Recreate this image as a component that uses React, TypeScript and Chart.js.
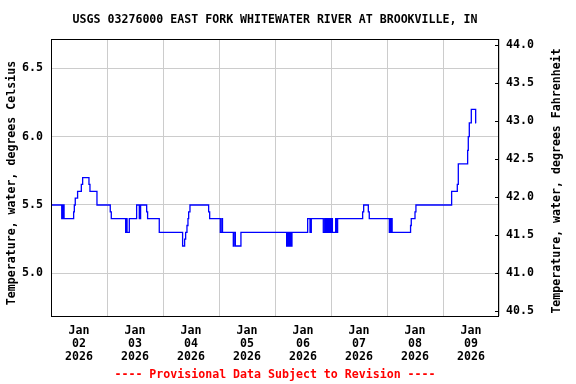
import React, { useEffect, useRef } from 'react';
import { Chart, registerables } from 'chart.js';

Chart.register(...registerables);

const TITLE = 'USGS 03276000 EAST FORK WHITEWATER RIVER AT BROOKVILLE, IN';
const FOOTER = '---- Provisional Data Subject to Revision ----';
const Y_LEFT_TITLE = 'Temperature, water, degrees Celsius';
const Y_RIGHT_TITLE = 'Temperature, water, degrees Fahrenheit';
const MONTH = 'Jan';
const YEAR = '2026';
const DAY_LABELS = ['02', '03', '04', '05', '06', '07', '08', '09'];

// hours since Jan 02 00:00 at which the reading changes, and the reading (deg C)
const HOURS = [
  0, 4.6, 4.85, 5.1, 5.35, 5.6, 9.7, 10.0, 10.4, 11.4, 13.0, 13.56, 16.27, 16.7, 19.7,
  25.4, 25.84, 32.0, 32.3, 32.6, 33.56, 36.7, 37.84, 38.4, 41.0, 41.4, 46.4,
  56.4, 57.27, 57.7, 58.27, 58.7, 59.0, 59.56, 67.56, 68.0, 72.56, 73.2, 73.5,
  78.13, 78.4, 79.0, 81.4, 101.0, 101.56, 102.0, 102.56, 103.0, 103.27,
  110.0, 111.0, 111.56, 116.7, 117.3, 117.8, 118.3, 118.8, 119.3, 119.8, 120.3, 120.6,
  122.0, 122.3, 122.84, 133.56, 134.0, 136.0, 136.4, 145.0, 145.3, 145.6, 145.9, 146.2,
  154.1, 154.4, 156.0, 156.4, 171.7, 174.13, 174.56, 178.56, 178.84, 179.27, 180.13,
  182.0, 182.2,
];
const TEMP_C = [
  5.5, 5.4, 5.5, 5.4, 5.5, 5.4, 5.45, 5.5, 5.55, 5.6, 5.65, 5.7, 5.65, 5.6, 5.5,
  5.45, 5.4, 5.3, 5.4, 5.3, 5.4, 5.5, 5.4, 5.5, 5.45, 5.4, 5.3,
  5.2, 5.25, 5.3, 5.35, 5.4, 5.45, 5.5, 5.45, 5.4, 5.3, 5.4, 5.3,
  5.2, 5.3, 5.2, 5.3, 5.2, 5.3, 5.2, 5.3, 5.2, 5.3,
  5.4, 5.3, 5.4, 5.3, 5.4, 5.3, 5.4, 5.3, 5.4, 5.3, 5.4, 5.3,
  5.4, 5.3, 5.4, 5.45, 5.5, 5.45, 5.4, 5.3, 5.4, 5.3, 5.4, 5.3,
  5.35, 5.4, 5.45, 5.5, 5.6, 5.65, 5.8, 5.9, 6.0, 6.1, 6.2,
  6.1, 6.1,
];

const Y_MIN_C = 4.688;
const Y_MAX_C = 6.714;
const X_MIN_H = 0;
const X_MAX_H = 192;

const toF = (c: number) => c * 1.8 + 32;

const FONT_FAMILY = '"DejaVu Sans Mono", "Liberation Mono", monospace';
const FONT_SIZE = 11.6;
const CANVAS_FONT = `bold ${FONT_SIZE}px ${FONT_FAMILY}`;

const decorPlugin = {
  id: 'usgsDecor',
  afterDraw(chart: any) {
    const { ctx, chartArea: a } = chart;
    ctx.save();
    ctx.font = CANVAS_FONT;
    ctx.textAlign = 'center';
    ctx.textBaseline = 'middle';
    const cx = (a.left + a.right) / 2;
    ctx.fillStyle = '#000';
    ctx.fillText(TITLE, cx, 20);
    ctx.fillStyle = '#ff0000';
    ctx.fillText(FOOTER, cx, 375);
    ctx.fillStyle = '#000';
    ctx.save();
    ctx.translate(12, 183);
    ctx.rotate(-Math.PI / 2);
    ctx.fillText(Y_LEFT_TITLE, 0, 0);
    ctx.restore();
    ctx.save();
    ctx.translate(557, 181);
    ctx.rotate(-Math.PI / 2);
    ctx.fillText(Y_RIGHT_TITLE, 0, 0);
    ctx.restore();

    // plot frame
    ctx.strokeStyle = '#000';
    ctx.lineWidth = 1;
    ctx.strokeRect(a.left + 0.5, a.top + 0.5, a.right - a.left - 1, a.bottom - a.top);

    // inward ticks on the right axis
    const y2 = chart.scales.y2;
    ctx.beginPath();
    for (const t of y2.ticks) {
      const py = Math.round(y2.getPixelForValue(t.value)) + 0.5;
      ctx.moveTo(a.right - 4, py);
      ctx.lineTo(a.right - 1, py);
    }
    ctx.stroke();
    ctx.restore();
  },
};

export default function App() {
  const ref = useRef<HTMLCanvasElement | null>(null);

  useEffect(() => {
    if (!ref.current) return;
    const points = HOURS.map((h, i) => ({ x: h, y: TEMP_C[i] }));
    const font = { family: FONT_FAMILY, size: FONT_SIZE, weight: 'bold' as const, lineHeight: 1.12 };
    const chart = new Chart(ref.current, {
      type: 'line',
      data: {
        datasets: [
          {
            data: points,
            borderColor: '#0000ff',
            borderWidth: 1.3,
            pointRadius: 0,
            stepped: true,
            fill: false,
            yAxisID: 'y',
          },
        ],
      },
      options: {
        responsive: false,
        animation: false,
        events: [],
        layout: { padding: { top: 39, left: 0, right: 0, bottom: 0 } },
        plugins: { legend: { display: false }, tooltip: { enabled: false }, title: { display: false } },
        scales: {
          x: {
            type: 'linear',
            min: X_MIN_H,
            max: X_MAX_H,
            afterFit: (s: any) => { s.height = 68; },
            border: { display: false },
            grid: {
              drawTicks: false,
              color: (c: any) => (c.tick && Math.round(c.tick.value) % 24 === 0 ? '#cccccc' : 'rgba(0,0,0,0)'),
              lineWidth: 1,
            },
            ticks: {
              stepSize: 12,
              autoSkip: false,
              maxRotation: 0,
              minRotation: 0,
              padding: 8.5,
              color: '#000',
              font,
              callback: (v: any) => {
                const n = Number(v);
                if (Math.round(n) % 24 !== 12) return '';
                const idx = Math.floor(n / 24);
                return [MONTH, DAY_LABELS[idx] ?? '', YEAR];
              },
            },
          },
          y: {
            type: 'linear',
            position: 'left',
            min: Y_MIN_C,
            max: Y_MAX_C,
            afterFit: (s: any) => { s.width = 51; },
            border: { display: false },
            grid: { drawTicks: false, color: '#cccccc', lineWidth: 1 },
            ticks: {
              stepSize: 0.5,
              includeBounds: false,
              padding: 8,
              color: '#000',
              font,
              callback: (v: any) => Number(v).toFixed(1),
            },
          },
          y2: {
            type: 'linear',
            position: 'right',
            min: toF(Y_MIN_C),
            max: toF(Y_MAX_C),
            afterFit: (s: any) => { s.width = 77; },
            border: { display: false },
            grid: { drawOnChartArea: false, drawTicks: false },
            ticks: {
              stepSize: 0.5,
              includeBounds: false,
              padding: 7,
              color: '#000',
              font,
              callback: (v: any) => Number(v).toFixed(1),
            },
          },
        },
      },
      plugins: [decorPlugin],
    } as any);
    return () => chart.destroy();
  }, []);

  return (
    <div style={{ position: 'absolute', left: 0, top: 0, width: 576, height: 384, background: '#fff' }}>
      <canvas ref={ref} width={576} height={384} style={{ display: 'block', width: 576, height: 384 }} />
    </div>
  );
}
